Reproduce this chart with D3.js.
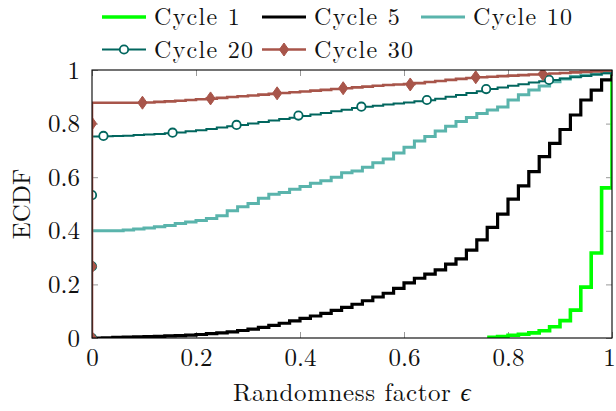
<!DOCTYPE html>
<html>
<head>
<meta charset="utf-8">
<script src="https://cdn.jsdelivr.net/npm/d3@7"></script>
<style>
  body { margin: 0; background: #fff; }
  svg text { font-family: "Latin Modern Roman", "CMU Serif", "Liberation Serif", serif; fill: #111; }
</style>
</head>
<body>
<svg></svg>
<script>
const width = 616;
const height = 411;
const plot = { left: 92, right: 612, top: 70, bottom: 338 };
const fontSize = '25px';

// evaluation grid of the ECDFs (randomness factor)
const eps = [0, 0.02, 0.04, 0.06, 0.08, 0.1, 0.12, 0.14, 0.16, 0.18,
  0.2, 0.22, 0.24, 0.26, 0.28, 0.3, 0.32, 0.34, 0.36, 0.38,
  0.4, 0.42, 0.44, 0.46, 0.48, 0.5, 0.52, 0.54, 0.56, 0.58,
  0.6, 0.62, 0.64, 0.66, 0.68, 0.7, 0.72, 0.74, 0.76, 0.78,
  0.8, 0.82, 0.84, 0.86, 0.88, 0.9, 0.92, 0.94, 0.96, 0.98, 1];

const cycle1 = [null, null, null, null, null, null, null, null, null, null,
  null, null, null, null, null, null, null, null, null, null,
  null, null, null, null, null, null, null, null, null, null,
  null, null, null, null, null, null, null, null, 0.003, 0.005,
  0.01, 0.014, 0.019, 0.027, 0.042, 0.065, 0.104, 0.19, 0.317, 0.56, 1];

const cycle5 = [0, 0.001, 0.002, 0.003, 0.004, 0.005, 0.006, 0.008, 0.009, 0.011,
  0.013, 0.016, 0.019, 0.023, 0.028, 0.033, 0.04, 0.047, 0.055, 0.064,
  0.073, 0.082, 0.092, 0.103, 0.114, 0.126, 0.139, 0.153, 0.167, 0.185,
  0.206, 0.223, 0.238, 0.254, 0.276, 0.295, 0.328, 0.366, 0.413, 0.462,
  0.518, 0.568, 0.621, 0.677, 0.726, 0.778, 0.832, 0.888, 0.925, 0.963, 1];

const cycle10 = [0.4, 0.4, 0.4, 0.403, 0.407, 0.41, 0.415, 0.42, 0.427, 0.433,
  0.438, 0.446, 0.456, 0.475, 0.49, 0.502, 0.521, 0.536, 0.543, 0.555,
  0.565, 0.577, 0.587, 0.6, 0.617, 0.623, 0.637, 0.654, 0.668, 0.69,
  0.712, 0.735, 0.752, 0.772, 0.79, 0.808, 0.823, 0.838, 0.851, 0.862,
  0.888, 0.908, 0.925, 0.94, 0.956, 0.966, 0.976, 0.98, 0.984, 0.99, 1];

const cycle20 = [0.752, 0.753, 0.754, 0.755, 0.757, 0.759, 0.761, 0.764, 0.767, 0.771,
  0.775, 0.78, 0.785, 0.79, 0.795, 0.8, 0.806, 0.812, 0.817, 0.822,
  0.828, 0.834, 0.84, 0.846, 0.852, 0.858, 0.863, 0.867, 0.871, 0.875,
  0.879, 0.883, 0.887, 0.893, 0.9, 0.907, 0.914, 0.921, 0.929, 0.935,
  0.941, 0.947, 0.953, 0.958, 0.963, 0.968, 0.973, 0.978, 0.983, 0.988, 1];

const cycle30 = [0.878, 0.878, 0.878, 0.878, 0.878, 0.879, 0.881, 0.883, 0.885, 0.888,
  0.891, 0.893, 0.896, 0.899, 0.902, 0.905, 0.908, 0.911, 0.914, 0.917,
  0.92, 0.923, 0.926, 0.929, 0.932, 0.935, 0.938, 0.941, 0.944, 0.946,
  0.948, 0.951, 0.955, 0.959, 0.963, 0.967, 0.97, 0.973, 0.975, 0.977,
  0.979, 0.981, 0.983, 0.985, 0.987, 0.989, 0.991, 0.993, 0.995, 0.997, 1];

// mark positions as they appear on the two marked curves
const cycle20MarkX = [0, 0, 0, 0.022, 0.155, 0.278, 0.397, 0.518, 0.644, 0.758, 0.879];
const cycle20MarkY = [0, 0.267, 0.533, 0.754, 0.766, 0.795, 0.83, 0.863, 0.888, 0.929, 0.963];
const cycle30MarkX = [0, 0, 0, 0.097, 0.228, 0.356, 0.483, 0.612, 0.738, 0.867];
const cycle30MarkY = [0, 0.267, 0.8, 0.878, 0.894, 0.913, 0.932, 0.946, 0.973, 0.985];

const tickValues = [0, 0.2, 0.4, 0.6, 0.8, 1];
const tickLabels = ['0', '0.2', '0.4', '0.6', '0.8', '1'];

const series = [
  { name: 'Cycle 1', values: cycle1, color: '#00ff00', width: 3.6 },
  { name: 'Cycle 5', values: cycle5, color: '#000000', width: 3.2 },
  { name: 'Cycle 10', values: cycle10, color: '#5ab4ac', width: 3 },
  { name: 'Cycle 20', values: cycle20, color: '#01665e', width: 2, fromZero: true,
    mark: 'circle', markX: cycle20MarkX, markY: cycle20MarkY },
  { name: 'Cycle 30', values: cycle30, color: '#a8554a', width: 2.6, fromZero: true,
    mark: 'diamond', markX: cycle30MarkX, markY: cycle30MarkY }
];

const svg = d3.select('svg')
  .attr('width', width)
  .attr('height', height);

const xScale = d3.scaleLinear().domain([0, 1]).range([plot.left, plot.right]);
const yScale = d3.scaleLinear().domain([0, 1]).range([plot.bottom, plot.top]);

svg.append('defs').append('clipPath')
  .attr('id', 'plot-clip')
  .append('rect')
  .attr('x', plot.left)
  .attr('y', plot.top)
  .attr('width', plot.right - plot.left)
  .attr('height', plot.bottom - plot.top);

// axes: grey ticks pointing inwards on all four sides
const fmt = d => tickLabels[tickValues.indexOf(d)];

const styleAxis = g => {
  g.select('.domain').remove();
  g.selectAll('.tick line').attr('stroke', '#999').attr('stroke-width', 1);
  g.selectAll('.tick text')
    .style('font-size', fontSize)
    .style('font-family', '"Latin Modern Roman", "CMU Serif", "Liberation Serif", serif')
    .attr('fill', '#111');
};

const xAxis = svg.append('g')
  .attr('transform', `translate(0, ${plot.bottom})`)
  .call(d3.axisBottom(xScale).tickValues(tickValues).tickFormat(fmt)
    .tickSizeInner(-6).tickSizeOuter(0).tickPadding(10))
  .call(styleAxis);

// keep the last label inside the page
xAxis.selectAll('.tick text')
  .filter(d => d === 1)
  .attr('dx', -3);

svg.append('g')
  .attr('transform', `translate(0, ${plot.top})`)
  .call(d3.axisTop(xScale).tickValues(tickValues).tickFormat('')
    .tickSizeInner(-6).tickSizeOuter(0))
  .call(styleAxis);

svg.append('g')
  .attr('transform', `translate(${plot.left}, 0)`)
  .call(d3.axisLeft(yScale).tickValues(tickValues).tickFormat(fmt)
    .tickSizeInner(-6).tickSizeOuter(0).tickPadding(12))
  .call(styleAxis);

svg.append('g')
  .attr('transform', `translate(${plot.right}, 0)`)
  .call(d3.axisRight(yScale).tickValues(tickValues).tickFormat('')
    .tickSizeInner(-6).tickSizeOuter(0))
  .call(styleAxis);

// curves
const line = d3.line()
  .x(d => xScale(d[0]))
  .y(d => yScale(d[1]))
  .curve(d3.curveStepAfter);

const diamondPath = 'M0,-6.5L4.6,0L0,6.5L-4.6,0Z';

const drawMark = (g, s, x, y) => {
  if (s.mark === 'circle') {
    g.append('circle')
      .attr('cx', x).attr('cy', y).attr('r', 4.2)
      .attr('fill', '#fff')
      .attr('stroke', s.color)
      .attr('stroke-width', 1.8);
  } else if (s.mark === 'diamond') {
    g.append('path')
      .attr('d', diamondPath)
      .attr('transform', `translate(${x}, ${y})`)
      .attr('fill', s.color)
      .attr('stroke', s.color)
      .attr('stroke-width', 1);
  }
};

const plotArea = svg.append('g').attr('clip-path', 'url(#plot-clip)');

series.forEach(s => {
  let pts = eps.map((e, i) => [e, s.values[i]]).filter(d => d[1] !== null);
  if (s.fromZero) pts = [[0, 0]].concat(pts);

  plotArea.append('path')
    .datum(pts)
    .attr('fill', 'none')
    .attr('stroke', s.color)
    .attr('stroke-width', s.width)
    .attr('stroke-linejoin', 'miter')
    .attr('d', line);

  if (s.mark) {
    s.markX.forEach((mx, i) => drawMark(plotArea, s, xScale(mx), yScale(s.markY[i])));
  }
});

// frame
svg.append('rect')
  .attr('x', plot.left)
  .attr('y', plot.top)
  .attr('width', plot.right - plot.left)
  .attr('height', plot.bottom - plot.top)
  .attr('fill', 'none')
  .attr('stroke', '#000')
  .attr('stroke-width', 1.1);

// axis titles
svg.append('text')
  .attr('x', (plot.left + plot.right) / 2)
  .attr('y', 401)
  .attr('text-anchor', 'middle')
  .style('font-size', fontSize)
  .style('letter-spacing', '0.6px')
  .text('Randomness factor ')
  .append('tspan')
  .style('font-style', 'italic')
  .text('ϵ');

svg.append('text')
  .attr('transform', `translate(30, ${(plot.top + plot.bottom) / 2}) rotate(-90)`)
  .attr('text-anchor', 'middle')
  .style('font-size', fontSize)
  .text('ECDF');

// legend, two rows
const legendCols = [102, 262, 421];
const legendRows = [17, 49.5];

const legend = svg.append('g');
series.forEach((s, i) => {
  const lx = legendCols[i % 3];
  const ly = legendRows[Math.floor(i / 3)];
  legend.append('line')
    .attr('x1', lx).attr('x2', lx + 44)
    .attr('y1', ly).attr('y2', ly)
    .attr('stroke', s.color)
    .attr('stroke-width', s.width);
  if (s.mark) drawMark(legend, s, lx + 22, ly);
  legend.append('text')
    .attr('x', lx + 52)
    .attr('y', ly + 8)
    .style('font-size', '24px')
    .style('letter-spacing', '1.3px')
    .text(s.name);
});
</script>
</body>
</html>
